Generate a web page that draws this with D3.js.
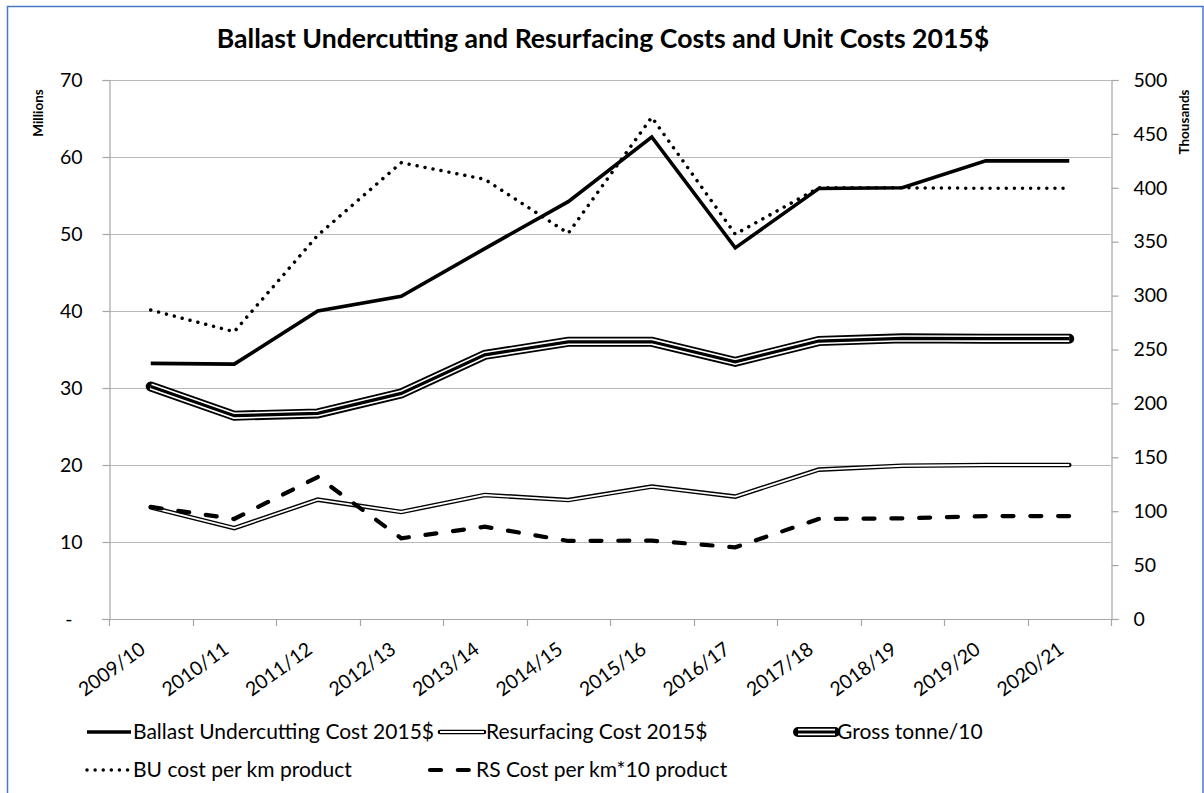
<!DOCTYPE html>
<html>
<head>
<meta charset="utf-8">
<script src="https://cdn.jsdelivr.net/npm/d3@7"></script>
<style>
  html, body { margin: 0; padding: 0; background: #fff; }
  svg { display: block; font-family: Lato, "Open Sans", sans-serif; }
</style>
</head>
<body>
<svg id="chart" width="1204" height="793"></svg>
<script>
// Financial years on the category axis
const years = ["2009/10", "2010/11", "2011/12", "2012/13", "2013/14", "2014/15",
               "2015/16", "2016/17", "2017/18", "2018/19", "2019/20", "2020/21"];

// Left axis series (millions)
const ballastCost   = [33.2, 33.1, 40.0, 41.9, 48.1, 54.2, 62.6, 48.2, 55.9, 56.0, 59.5, 59.5];
const resurfaceCost = [14.5, 11.8, 15.5, 13.9, 16.1, 15.45, 17.2, 15.9, 19.4, 19.9, 20.0, 20.0];
const grossTonne    = [30.2, 26.4, 26.7, 29.3, 34.3, 36.0, 36.0, 33.4, 36.1, 36.45, 36.4, 36.4];

// Right axis series (thousands)
const buPerKm   = [286.6, 266.5, 356, 423.3, 407.9, 357.8, 465.4, 357, 400, 400, 399.6, 399.6];
const rsPerKm10 = [104, 92.8, 131.7, 74.9, 85.6, 72.4, 72.7, 66.5, 92.8, 93.4, 95.5, 95.5];

// Tick values
const leftTicks  = [0, 10, 20, 30, 40, 50, 60, 70];
const rightTicks = [0, 50, 100, 150, 200, 250, 300, 350, 400, 450, 500];

const titleText = "Ballast Undercutting and Resurfacing Costs and Unit Costs 2015$";

const svg = d3.select("#chart");
const W = 1204, H = 793;
const plot = { left: 109, right: 1111, top: 80, bottom: 619 };

// Outer frame
svg.append("rect")
  .attr("x", 7.5).attr("y", 6.5)
  .attr("width", W - 8.5).attr("height", H + 20)
  .attr("fill", "#fff")
  .attr("stroke", "#4a78c8").attr("stroke-width", 1.5);

// Scales
const x = d3.scaleBand().domain(years).range([plot.left, plot.right]);
const cx = d => x(d) + x.bandwidth() / 2;
const yL = d3.scaleLinear().domain([0, 70]).range([plot.bottom, plot.top]);
const yR = d3.scaleLinear().domain([0, 500]).range([plot.bottom, plot.top]);

// Title
const title = svg.append("text")
  .attr("x", 603).attr("y", 48)
  .attr("text-anchor", "middle")
  .attr("font-weight", "bold")
  .attr("font-size", 24)
  .attr("fill", "#000")
  .text(titleText);
{
  const len = title.node().getComputedTextLength();
  title.attr("font-size", 24 * 773 / len);
}

// Horizontal gridlines from the left axis
const gridG = svg.append("g");
gridG.selectAll("line").data(leftTicks.filter(t => t > 0)).join("line")
  .attr("x1", plot.left).attr("x2", plot.right)
  .attr("y1", d => Math.round(yL(d)) + 0.5).attr("y2", d => Math.round(yL(d)) + 0.5)
  .attr("stroke", "#b8b8b8").attr("stroke-width", 1.2);

// Left axis
const leftAxis = d3.axisLeft(yL).tickValues(leftTicks).tickSize(7).tickPadding(20)
  .tickFormat(d => d === 0 ? "-" : d3.format("d")(d));
const gL = svg.append("g").attr("transform", `translate(${plot.left + 0.5},0)`).call(leftAxis);
gL.select(".domain").attr("stroke", "#a6a6a6").attr("stroke-width", 1.2);
gL.selectAll(".tick line").attr("stroke", "#a6a6a6").attr("stroke-width", 1.2);
gL.selectAll(".tick text")
  .attr("font-family", "Lato, 'Open Sans', sans-serif")
  .attr("font-size", 19.5).attr("fill", "#000")
  .attr("dx", d => d === 0 ? -10 : 0);

// Right axis
const rightAxis = d3.axisRight(yR).tickValues(rightTicks).tickSize(7).tickPadding(15)
  .tickFormat(d3.format("d"));
const gR = svg.append("g").attr("transform", `translate(${plot.right + 0.5},0)`).call(rightAxis);
gR.select(".domain").attr("stroke", "#a6a6a6").attr("stroke-width", 1.2);
gR.selectAll(".tick line").attr("stroke", "#a6a6a6").attr("stroke-width", 1.2);
gR.selectAll(".tick text")
  .attr("font-family", "Lato, 'Open Sans', sans-serif")
  .attr("font-size", 19.5).attr("fill", "#000");

// Axis unit titles
svg.append("text")
  .attr("transform", `translate(43,${113}) rotate(-90)`)
  .attr("text-anchor", "middle").attr("font-weight", "bold").attr("font-size", 13.5)
  .text("Millions");
svg.append("text")
  .attr("transform", `translate(1189,${122}) rotate(-90)`)
  .attr("text-anchor", "middle").attr("font-weight", "bold").attr("font-size", 13.5)
  .text("Thousands");

// Category axis: line, boundary ticks and rotated labels
const gX = svg.append("g");
gX.append("line")
  .attr("x1", plot.left - 7).attr("x2", plot.right + 7)
  .attr("y1", plot.bottom + 0.5).attr("y2", plot.bottom + 0.5)
  .attr("stroke", "#a6a6a6").attr("stroke-width", 1.2);
gX.selectAll("line.tk").data(years.concat(["__end"])).join("line")
  .attr("class", "tk")
  .attr("x1", d => d === "__end" ? plot.right + 0.5 : Math.round(x(d)) + 0.5)
  .attr("x2", d => d === "__end" ? plot.right + 0.5 : Math.round(x(d)) + 0.5)
  .attr("y1", plot.bottom).attr("y2", plot.bottom + 7)
  .attr("stroke", "#a6a6a6").attr("stroke-width", 1.2);
gX.selectAll("text").data(years).join("text")
  .attr("transform", d => `translate(${cx(d) - 4},${plot.bottom + 33}) rotate(-36)`)
  .attr("text-anchor", "end")
  .attr("font-size", 19.5).attr("fill", "#000")
  .text(d => d);

// Line drawing helpers
const lineGen = (scale) => d3.line().x((d, i) => cx(years[i])).y(d => scale(d));

const styles = {
  ballast: [{ stroke: "#000", width: 3.6, cap: "butt" }],
  resurf: [
    { stroke: "#000", width: 4.6, cap: "round" },
    { stroke: "#fff", width: 1.8, cap: "butt" }
  ],
  gross: [
    { stroke: "#000", width: 10, cap: "round" },
    { stroke: "#fff", width: 6.4, cap: "butt" },
    { stroke: "#000", width: 3.2, cap: "butt" }
  ],
  buKm: [{ stroke: "#000", width: 3.5, cap: "round", dash: "0.01 8.1" }],
  rsKm: [{ stroke: "#000", width: 4.2, cap: "round", dash: "11 16.8" }]
};

const series = [
  { key: "ballast", values: ballastCost, scale: yL, label: "Ballast Undercutting Cost 2015$" },
  { key: "resurf", values: resurfaceCost, scale: yL, label: "Resurfacing Cost 2015$" },
  { key: "gross", values: grossTonne, scale: yL, label: "Gross tonne/10" },
  { key: "buKm", values: buPerKm, scale: yR, label: "BU cost per km product" },
  { key: "rsKm", values: rsPerKm10, scale: yR, label: "RS Cost per km*10 product" }
];

function drawStyled(g, dAttr, styleList) {
  styleList.forEach(s => {
    g.append("path")
      .attr("d", dAttr)
      .attr("fill", "none")
      .attr("stroke", s.stroke)
      .attr("stroke-width", s.width)
      .attr("stroke-linecap", s.cap)
      .attr("stroke-linejoin", "miter")
      .attr("stroke-dasharray", s.dash || null);
  });
}

const linesG = svg.append("g");
series.forEach(s => {
  const g = linesG.append("g");
  drawStyled(g, lineGen(s.scale)(s.values), styles[s.key]);
});

// Legend
const legendItems = [
  { key: "ballast", x: 87, y: 732 },
  { key: "resurf", x: 440, y: 732 },
  { key: "gross", x: 793, y: 732 },
  { key: "buKm", x: 87, y: 770 },
  { key: "rsKm", x: 430, y: 770 }
];
const legendG = svg.append("g");
legendItems.forEach(item => {
  const s = series.find(v => v.key === item.key);
  const g = legendG.append("g");
  const sampleLen = item.key === "gross" ? 42 : 44;
  const inset = item.key === "gross" ? 5 : 0;
  drawStyled(g, `M${item.x + inset},${item.y}H${item.x + sampleLen}`, styles[item.key]);
  g.append("text")
    .attr("x", item.x + sampleLen + 2).attr("y", item.y + 7)
    .attr("font-size", 21).attr("fill", "#000")
    .text(s.label);
});
</script>
</body>
</html>
